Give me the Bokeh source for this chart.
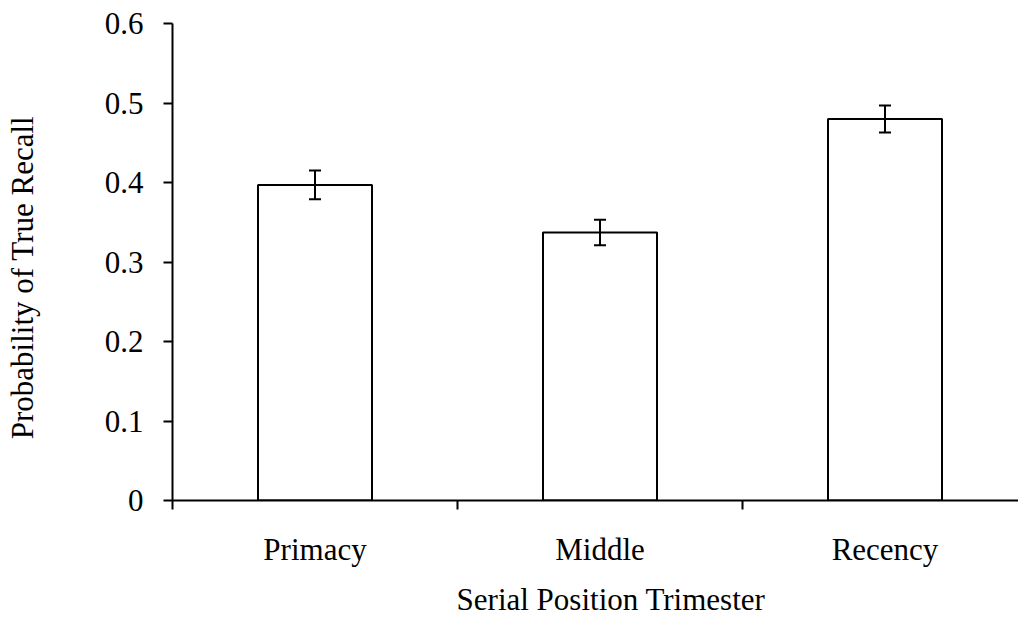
from bokeh.plotting import figure
from bokeh.models import (ColumnDataSource, Whisker, TeeHead, FixedTicker, Range1d,
                          CustomJSTickFormatter)
from bokeh.embed import file_html
from bokeh.resources import INLINE

categories = ["Primacy", "Middle", "Recency"]
means = [0.397, 0.337, 0.480]
errors = [0.018, 0.016, 0.017]
y_ticks = [0, 0.1, 0.2, 0.3, 0.4, 0.5, 0.6]
x_title = "Serial Position Trimester"
y_title = "Probability of True Recall"

FONT = "Liberation Serif"
FS = "31px"
PAD = "\u00a0" * 4  # nudges the axis titles along their axes, as in the reference

xs = [i + 0.5 for i in range(len(categories))]
src = ColumnDataSource(dict(
    x=xs, top=means,
    upper=[m + e for m, e in zip(means, errors)],
    lower=[m - e for m, e in zip(means, errors)],
))

p = figure(width=1018, height=620, output_backend="svg", toolbar_location=None,
           x_range=Range1d(0, 846 / 285), y_range=Range1d(0, 0.6),
           min_border_left=172, min_border_right=0, min_border_top=23,
           min_border_bottom=120, background_fill_color="white",
           border_fill_color="white")
p.outline_line_color = None
p.grid.visible = False

p.vbar(x="x", top="top", width=0.4, bottom=0, source=src,
       fill_color="white", line_color="black", line_width=2)

w = Whisker(source=src, base="x", upper="upper", lower="lower",
            dimension="height", line_width=2, line_color="black", level="overlay",
            upper_head=TeeHead(size=12, line_width=2, line_color="black"),
            lower_head=TeeHead(size=12, line_width=2, line_color="black"))
p.add_layout(w)

# y axis
ya = p.yaxis[0]
ya.ticker = FixedTicker(ticks=y_ticks, minor_ticks=[])
ya.formatter = CustomJSTickFormatter(code="return tick == 0 ? '0' : tick.toFixed(1);")
ya.axis_line_width = 2
ya.major_tick_line_width = 2
ya.major_tick_out = 9
ya.major_tick_in = 0
ya.minor_tick_out = 0
ya.minor_tick_in = 0
ya.major_label_standoff = 20
ya.major_label_text_font = FONT
ya.major_label_text_font_size = FS
ya.major_label_text_color = "black"
ya.axis_line_color = "black"
ya.major_tick_line_color = "black"
ya.axis_label = y_title + PAD
ya.axis_label_standoff = 62
ya.axis_label_text_font = FONT
ya.axis_label_text_font_size = FS
ya.axis_label_text_font_style = "normal"
ya.axis_label_text_color = "black"

# x axis
xa = p.xaxis[0]
boundaries = list(range(len(categories) + 1))
xa.ticker = FixedTicker(ticks=xs, minor_ticks=boundaries)
xa.major_label_overrides = {x: c for x, c in zip(xs, categories)}
xa.axis_line_width = 2
xa.axis_line_color = "black"
xa.major_tick_out = 0
xa.major_tick_in = 0
xa.minor_tick_out = 9
xa.minor_tick_in = 0
xa.minor_tick_line_width = 2
xa.minor_tick_line_color = "black"
xa.major_label_standoff = 22
xa.major_label_text_font = FONT
xa.major_label_text_font_size = FS
xa.major_label_text_color = "black"
xa.axis_label = PAD + x_title
xa.axis_label_standoff = 12
xa.axis_label_text_font = FONT
xa.axis_label_text_font_size = FS
xa.axis_label_text_font_style = "normal"
xa.axis_label_text_color = "black"

open("out.html", "w").write(file_html(p, INLINE))
